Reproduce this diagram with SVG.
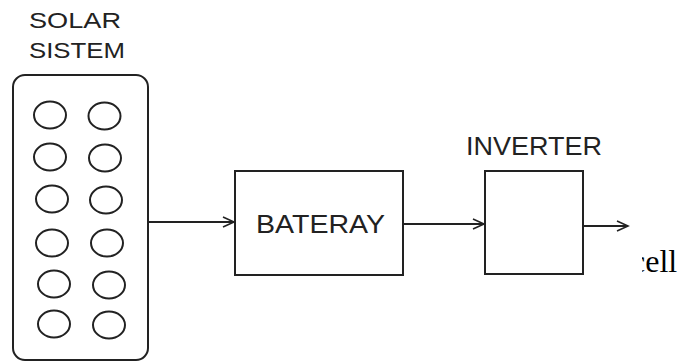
<svg xmlns="http://www.w3.org/2000/svg" width="678" height="362" viewBox="0 0 678 362">
<defs>
<style>
.s{fill:none;stroke:#222;stroke-width:2}
.c{fill:none;stroke:#222;stroke-width:2}
.t{font-family:"Liberation Sans",Arial,sans-serif;fill:#222}
.e{font-family:"Liberation Serif","Times New Roman",serif;fill:#000}
</style>
<marker id="a" markerWidth="14" markerHeight="12" refX="12" refY="6" orient="auto" markerUnits="userSpaceOnUse">
<polyline points="1,1 12,6 1,11" fill="none" stroke="#222" stroke-width="1.6"/>
</marker>
<clipPath id="clip"><rect x="642" y="240" width="36" height="50"/></clipPath>
</defs>
<rect width="678" height="362" fill="#fff"/>
<g id="solar">
<text class="t" x="29" y="28" font-size="22" textLength="92" lengthAdjust="spacingAndGlyphs">SOLAR</text>
<text class="t" x="29" y="58" font-size="22" textLength="96" lengthAdjust="spacingAndGlyphs">SISTEM</text>
<rect class="s" x="13" y="75" width="135" height="285" rx="12"/>
<ellipse class="c" cx="50" cy="115" rx="16" ry="13.5"/>
<ellipse class="c" cx="104.5" cy="116" rx="16" ry="13.5"/>
<ellipse class="c" cx="50" cy="157" rx="16" ry="13.5"/>
<ellipse class="c" cx="105" cy="158" rx="16" ry="13.5"/>
<ellipse class="c" cx="52" cy="199" rx="16" ry="13.5"/>
<ellipse class="c" cx="106" cy="200" rx="16" ry="13.5"/>
<ellipse class="c" cx="52" cy="243" rx="16" ry="13.5"/>
<ellipse class="c" cx="107" cy="243" rx="16" ry="13.5"/>
<ellipse class="c" cx="54" cy="284" rx="16" ry="13.5"/>
<ellipse class="c" cx="109" cy="285" rx="16" ry="13.5"/>
<ellipse class="c" cx="54" cy="324" rx="16" ry="13.5"/>
<ellipse class="c" cx="109" cy="325" rx="16" ry="13.5"/>
</g>
<g id="bateray">
<rect class="s" x="235" y="171" width="168" height="104"/>
<text class="t" x="256" y="233" font-size="25" textLength="129" lengthAdjust="spacingAndGlyphs">BATERAY</text>
</g>
<g id="inverter">
<text class="t" x="466" y="155" font-size="25" textLength="136" lengthAdjust="spacingAndGlyphs">INVERTER</text>
<rect class="s" x="485" y="171" width="98" height="103"/>
</g>
<g id="connectors">
<line class="s" x1="148" y1="222" x2="234" y2="222" marker-end="url(#a)"/>
<line class="s" x1="403" y1="224" x2="484" y2="224" marker-end="url(#a)"/>
<line class="s" x1="583" y1="226" x2="628" y2="226" marker-end="url(#a)"/>
</g>
<text class="e" x="631" y="272" font-size="32" clip-path="url(#clip)">cell</text>
</svg>
